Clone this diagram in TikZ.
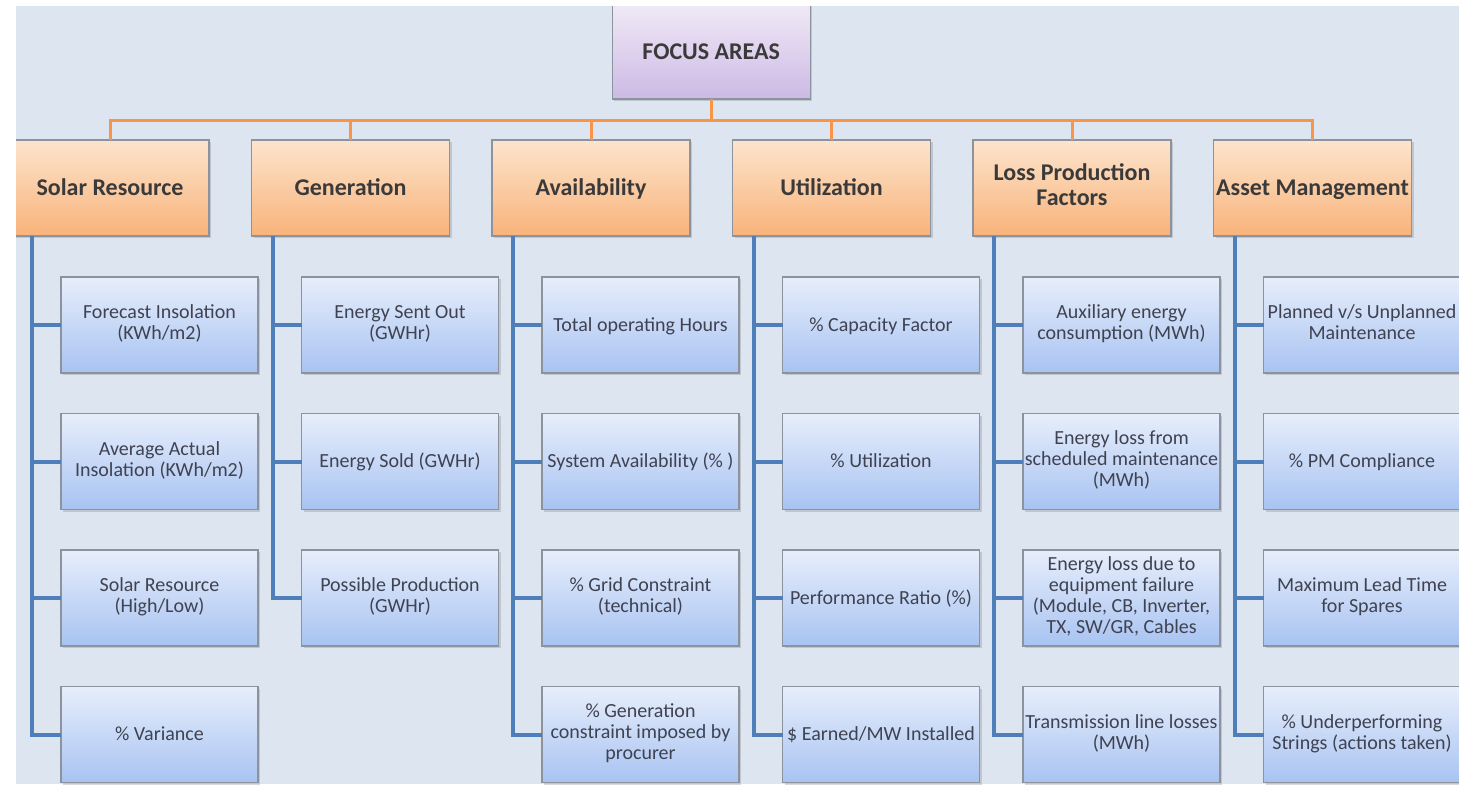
\documentclass[tikz,border=0pt]{standalone}
\usepackage{fontspec}
\setmainfont{Carlito}
\usetikzlibrary{positioning, shadows}
\definecolor{mpage}{HTML}{DDE5F0}
\definecolor{morange}{HTML}{F79646}
\definecolor{mblue}{HTML}{4F7FBA}
\definecolor{mgray}{HTML}{8D939C}
\definecolor{mink}{HTML}{3A3A3A}
\definecolor{mtext}{HTML}{3F4250}
\definecolor{mlilac}{HTML}{F1ECF7}
\definecolor{mviolet}{HTML}{CDB9E5}
\definecolor{mpeach}{HTML}{FDE4CD}
\definecolor{mapricot}{HTML}{F8B37A}
\definecolor{mice}{HTML}{E7EEFB}
\definecolor{msky}{HTML}{A8C3F2}
\tikzstyle{topbox} = [rectangle, minimum width=99pt, minimum height=49.5pt, outer sep=0pt, draw=mgray, line width=0.6pt, top color=mlilac, bottom color=mviolet, text=mink, font=\fontsize{12}{12.5}\selectfont\bfseries, execute at begin node={\rule{0pt}{10.2pt}}, drop shadow={shadow xshift=1pt, shadow yshift=-1pt, opacity=0.3}]
\tikzstyle{area} = [rectangle, minimum width=99pt, minimum height=48pt, inner xsep=0pt, outer sep=0pt, draw=mgray, line width=0.6pt, top color=mpeach, bottom color=mapricot, text=mink, font=\fontsize{12}{12.5}\selectfont\bfseries, execute at begin node={\rule{0pt}{10.7pt}}, execute at end node={\rule[-3pt]{0pt}{3pt}}, drop shadow={shadow xshift=1pt, shadow yshift=-1pt, opacity=0.3}]
\tikzstyle{metric} = [rectangle, minimum width=98.5pt, minimum height=48pt, inner xsep=0pt, outer sep=0pt, draw=mgray, line width=0.6pt, top color=mice, bottom color=msky, text=mtext, font=\fontsize{10}{10.5}\selectfont, execute at begin node={\rule{0pt}{9pt}}, execute at end node={\rule[-2.6pt]{0pt}{2.6pt}}, drop shadow={shadow xshift=1pt, shadow yshift=-1pt, opacity=0.3}]
\tikzstyle{bus} = [morange, line width=1.5pt]
\tikzstyle{trunk} = [mblue, line width=2pt]

\begin{document}
\begin{tikzpicture}[align=center, node distance=20.25pt]
  \useasboundingbox (0,0) rectangle (729.5pt,-392pt);
  \fill [white] (0,0) rectangle (729.5pt,-392pt);
  \begin{scope}
  \clip (8pt,-3pt) rectangle (729.5pt,-392pt);
  \fill [mpage] (8pt,-3pt) rectangle (729.5pt,-392pt);
  % top and the six areas
  \node (focus) [topbox] at (355.6pt,-24.75pt) {FOCUS AREAS};
  \node (sr) [area] at (55pt,-94pt) {Solar Resource};
  \node (gen) [area, right=21.25pt of sr] {Generation};
  \node (av) [area, right=21.25pt of gen] {Availability};
  \node (ut) [area, right=21.25pt of av] {Utilization};
  \node (lpf) [area, right=21.25pt of ut] {Loss Production\\Factors};
  \node (am) [area, right=21.25pt of lpf] {Asset Management};
  \path (focus.south) ++(0,-10.5pt) coordinate (hub);
  \draw [bus] (focus.south) -- (hub) -| (sr.north);
  \draw [bus] (hub) -| (gen.north);
  \draw [bus] (hub) -| (av.north);
  \draw [bus] (hub) -| (ut.north);
  \draw [bus] (hub) -| (lpf.north);
  \draw [bus] (hub) -| (am.north);
  % solar resource
  \node (sr1) [metric, below right=20.5pt and 25pt of sr.south west] {Forecast Insolation\\(KWh/m2)};
  \node (sr2) [metric, below=of sr1] {Average Actual\\Insolation (KWh/m2)};
  \node (sr3) [metric, below=of sr2] {Solar Resource\\(High/Low)};
  \node (sr4) [metric, below=of sr3] {\% Variance};
  \draw [trunk] ([xshift=10.5pt]sr.south west) |- (sr1.west);
  \draw [trunk] ([xshift=10.5pt]sr.south west) |- (sr2.west);
  \draw [trunk] ([xshift=10.5pt]sr.south west) |- (sr3.west);
  \draw [trunk] ([xshift=10.5pt]sr.south west) |- (sr4.west);
  % generation
  \node (gen1) [metric, below right=20.5pt and 25pt of gen.south west] {Energy Sent Out\\(GWHr)};
  \node (gen2) [metric, below=of gen1] {Energy Sold (GWHr)};
  \node (gen3) [metric, below=of gen2] {Possible Production\\(GWHr)};
  \draw [trunk] ([xshift=10.5pt]gen.south west) |- (gen1.west);
  \draw [trunk] ([xshift=10.5pt]gen.south west) |- (gen2.west);
  \draw [trunk] ([xshift=10.5pt]gen.south west) |- (gen3.west);
  % availability
  \node (av1) [metric, below right=20.5pt and 25pt of av.south west] {Total operating Hours};
  \node (av2) [metric, below=of av1] {System Availability (\% )};
  \node (av3) [metric, below=of av2] {\% Grid Constraint\\(technical)};
  \node (av4) [metric, below=of av3] {\% Generation\\constraint imposed by\\procurer};
  \draw [trunk] ([xshift=10.5pt]av.south west) |- (av1.west);
  \draw [trunk] ([xshift=10.5pt]av.south west) |- (av2.west);
  \draw [trunk] ([xshift=10.5pt]av.south west) |- (av3.west);
  \draw [trunk] ([xshift=10.5pt]av.south west) |- (av4.west);
  % utilization
  \node (ut1) [metric, below right=20.5pt and 25pt of ut.south west] {\% Capacity Factor};
  \node (ut2) [metric, below=of ut1] {\% Utilization};
  \node (ut3) [metric, below=of ut2] {Performance Ratio (\%)};
  \node (ut4) [metric, below=of ut3] {\$ Earned/MW Installed};
  \draw [trunk] ([xshift=10.5pt]ut.south west) |- (ut1.west);
  \draw [trunk] ([xshift=10.5pt]ut.south west) |- (ut2.west);
  \draw [trunk] ([xshift=10.5pt]ut.south west) |- (ut3.west);
  \draw [trunk] ([xshift=10.5pt]ut.south west) |- (ut4.west);
  % loss production factors
  \node (lpf1) [metric, below right=20.5pt and 25pt of lpf.south west] {Auxiliary energy\\consumption (MWh)};
  \node (lpf2) [metric, below=of lpf1] {Energy loss from\\scheduled maintenance\\(MWh)};
  \node (lpf3) [metric, below=of lpf2] {Energy loss due to\\equipment failure\\(Module, CB, Inverter,\\TX, SW/GR, Cables};
  \node (lpf4) [metric, below=of lpf3] {Transmission line losses\\(MWh)};
  \draw [trunk] ([xshift=10.5pt]lpf.south west) |- (lpf1.west);
  \draw [trunk] ([xshift=10.5pt]lpf.south west) |- (lpf2.west);
  \draw [trunk] ([xshift=10.5pt]lpf.south west) |- (lpf3.west);
  \draw [trunk] ([xshift=10.5pt]lpf.south west) |- (lpf4.west);
  % asset management
  \node (am1) [metric, below right=20.5pt and 25pt of am.south west] {Planned v/s Unplanned\\Maintenance};
  \node (am2) [metric, below=of am1] {\% PM Compliance};
  \node (am3) [metric, below=of am2] {Maximum Lead Time\\for Spares};
  \node (am4) [metric, below=of am3] {\% Underperforming\\Strings (actions taken)};
  \draw [trunk] ([xshift=10.5pt]am.south west) |- (am1.west);
  \draw [trunk] ([xshift=10.5pt]am.south west) |- (am2.west);
  \draw [trunk] ([xshift=10.5pt]am.south west) |- (am3.west);
  \draw [trunk] ([xshift=10.5pt]am.south west) |- (am4.west);
  \end{scope}
\end{tikzpicture}
\end{document}
